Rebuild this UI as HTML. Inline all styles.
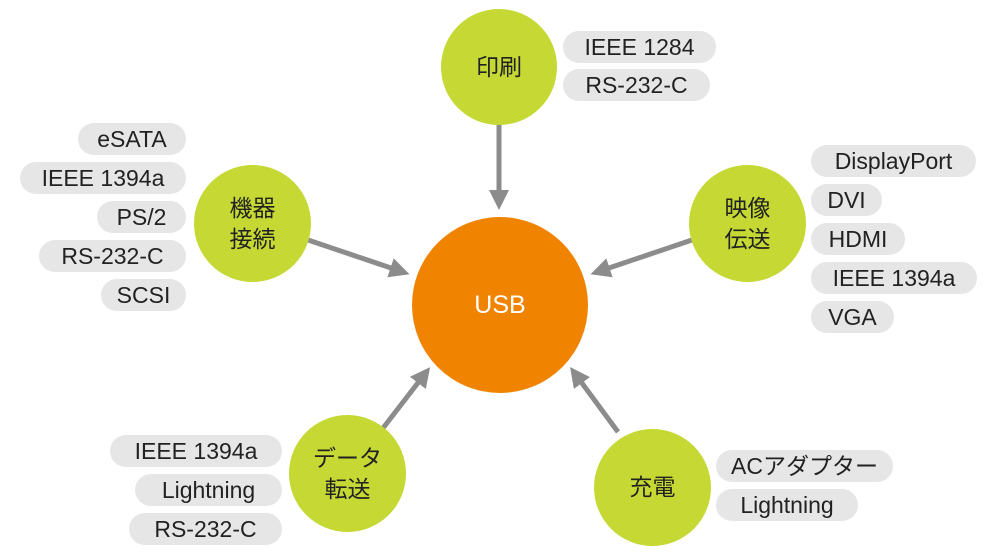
<!DOCTYPE html>
<html><head><meta charset="utf-8"><style>
body{margin:0;width:1000px;height:556px;background:#fff;position:relative;overflow:hidden;font-family:"Liberation Sans","Noto Sans CJK JP",sans-serif}
.p{position:absolute;height:32px;line-height:32px;background:#e6e6e6;border-radius:16px;text-align:center;font-size:23px;color:#222;white-space:nowrap}
.c{position:absolute;border-radius:50%;background:#c5d833;display:flex;align-items:center;justify-content:center;text-align:center;font-size:23px;line-height:31px;color:#222}
svg{position:absolute;left:0;top:0}
</style></head><body>
<svg width="1000" height="556">
<defs><marker id="a" markerWidth="4" markerHeight="4" refX="2" refY="2" orient="auto" markerUnits="strokeWidth"><path d="M0,0 L4,2 L0,4 z" fill="#8c8c8c"/></marker></defs>
<g stroke="#8c8c8c" stroke-width="5" marker-end="url(#a)">
<line x1="499" y1="124" x2="499" y2="200"/>
<line x1="308" y1="240" x2="400" y2="271"/>
<line x1="692" y1="240" x2="600" y2="271"/>
<line x1="380" y1="432" x2="424" y2="375"/>
<line x1="618" y1="432" x2="576" y2="375"/>
</g>
</svg>
<div class="c" style="left:412px;top:217px;width:176px;height:176px;background:#f08300;color:#fff;font-size:25px">USB</div>
<div class="c" style="left:441px;top:9px;width:116px;height:116px">印刷</div>
<div class="c" style="left:194px;top:165px;width:117px;height:117px">機器<br>接続</div>
<div class="c" style="left:689px;top:165px;width:117px;height:117px">映像<br>伝送</div>
<div class="c" style="left:289px;top:415px;width:117px;height:117px">データ<br>転送</div>
<div class="c" style="left:594px;top:429px;width:117px;height:117px">充電</div>

<div class="p" style="left:563px;top:31px;width:153px">IEEE 1284</div>
<div class="p" style="left:563px;top:69px;width:147px">RS-232-C</div>

<div class="p" style="left:78px;top:123px;width:108px">eSATA</div>
<div class="p" style="left:20px;top:162px;width:166px">IEEE 1394a</div>
<div class="p" style="left:97px;top:201px;width:89px">PS/2</div>
<div class="p" style="left:39px;top:240px;width:147px">RS-232-C</div>
<div class="p" style="left:101px;top:279px;width:85px">SCSI</div>

<div class="p" style="left:811px;top:145px;width:165px">DisplayPort</div>
<div class="p" style="left:811px;top:184px;width:71px">DVI</div>
<div class="p" style="left:811px;top:223px;width:94px">HDMI</div>
<div class="p" style="left:811px;top:262px;width:166px">IEEE 1394a</div>
<div class="p" style="left:811px;top:301px;width:83px">VGA</div>

<div class="p" style="left:110px;top:435px;width:172px">IEEE 1394a</div>
<div class="p" style="left:135px;top:474px;width:147px">Lightning</div>
<div class="p" style="left:129px;top:513px;width:153px">RS-232-C</div>

<div class="p" style="left:716px;top:450px;width:177px">ACアダプター</div>
<div class="p" style="left:716px;top:489px;width:142px">Lightning</div>
</body></html>
